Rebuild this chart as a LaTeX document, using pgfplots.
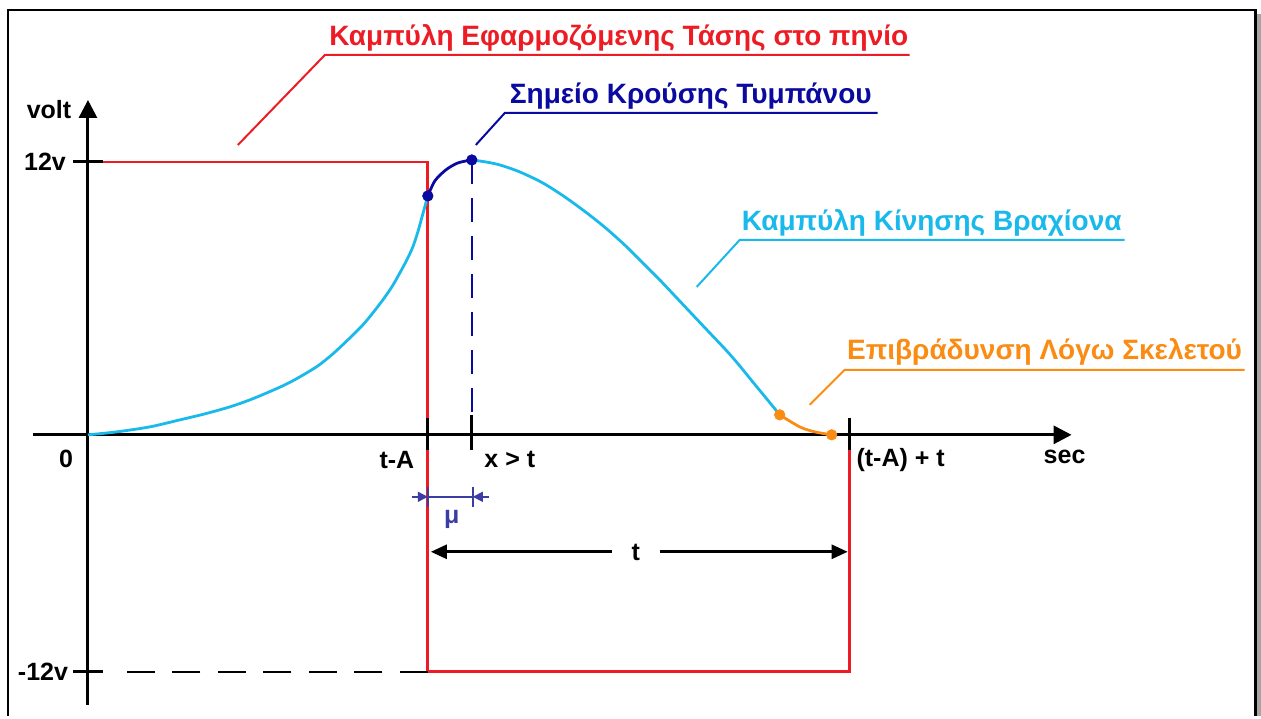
\documentclass[border=0pt]{standalone}
\usepackage{pgfplots}
\pgfplotsset{compat=1.18}
\usepackage{fontspec}
\setmainfont{Liberation Sans}
\usetikzlibrary{arrows.meta}
\definecolor{cred}{RGB}{237,28,36}
\definecolor{cblue}{RGB}{10,10,160}
\definecolor{ccyan}{RGB}{25,185,235}
\definecolor{corange}{RGB}{250,140,20}
\definecolor{cmu}{RGB}{60,60,165}
\tikzset{lbl/.style={font=\fontsize{12.5}{14}\selectfont\bfseries,inner sep=0pt},
         ann/.style={font=\fontsize{14}{16}\selectfont\bfseries,inner sep=0pt}}
\begin{document}
\begin{tikzpicture}
\begin{axis}[width=630.5pt,height=358pt,scale only axis,
  xmin=0,xmax=1261,ymin=0,ymax=716,y dir=reverse,hide axis,clip=false]
\addplot[draw=none] coordinates {(0,0) (1261,716)};
% frame
\addplot[gray!70,line width=2.5pt] coordinates {(1259,14) (1259,716)};
\addplot[black,line width=1.4pt] coordinates {(8,716) (8,10) (1256,10) (1256,716)};
% red step
\addplot[cred,line width=1.4pt] coordinates {(103,162) (428,162) (428,672) (850,672) (850,450)};
% dashed -12
\addplot[black,line width=0.9pt,dash pattern=on 14pt off 8.75pt] coordinates {(428,672) (126,672)};
% axes
\addplot[black,line width=1.5pt,-{Triangle[length=9pt,width=9pt]}] coordinates {(88,705) (88,100)};
\addplot[black,line width=1.5pt,-{Triangle[length=9pt,width=9pt]}] coordinates {(33,435) (1072,435)};
\addplot[black,line width=1.5pt] coordinates {(73,162) (103,162)};
\addplot[black,line width=1.5pt] coordinates {(73,672) (103,672)};
\addplot[black,line width=1.5pt] coordinates {(428,418) (428,450)};
\addplot[black,line width=1.5pt] coordinates {(472,415) (472,450)};
\addplot[black,line width=1.5pt] coordinates {(850,418) (850,450)};
% dashed vertical
\addplot[cblue,line width=0.9pt,dash pattern=on 12pt off 7pt] coordinates {(472,160) (472,420)};
% cyan rise
\addplot[ccyan,line width=1.4pt,smooth] coordinates {(88,435) (117,432) (150,427) (180,420) (205,414) (230,407) (250,400) (267,393) (285,385) (300,377) (318,366) (333,354) (348,340) (363,325) (373,313) (383,300) (392,287) (400,273) (407,260) (413,247) (418,232) (423,214) (428,196)};
% dark blue
\addplot[cblue,line width=1.4pt,smooth] coordinates {(428,196) (435,181) (446,170) (458,163) (472,160)};
% cyan fall
\addplot[ccyan,line width=1.4pt,smooth] coordinates {(472,160) (486,162) (500,165) (520,172) (543,183) (565,197) (587,213) (607,229) (627,247) (643,263) (660,280) (677,298) (693,315) (710,333) (727,351) (740,366) (753,382) (767,399) (780,415)};
% orange
\addplot[corange,line width=1.4pt,smooth] coordinates {(780,415) (800,427) (815,432) (832,435)};
% dots
\addplot[only marks,mark=*,mark size=2.6pt,cblue] coordinates {(428,196) (472,160)};
\addplot[only marks,mark=*,mark size=2.6pt,corange] coordinates {(780,415) (832,435)};
% mu dimension
\addplot[cmu,line width=0.8pt] coordinates {(428,497) (473,497)};
\addplot[cmu,line width=0.8pt,-{Triangle[length=5pt,width=5pt]}] coordinates {(412,497) (428,497)};
\addplot[cmu,line width=0.8pt,-{Triangle[length=5pt,width=5pt]}] coordinates {(489,497) (473,497)};
\addplot[cmu,line width=0.8pt] coordinates {(428,487) (428,507)};
\addplot[cmu,line width=0.8pt] coordinates {(473,487) (473,507)};
\node[lbl,text=cmu] at (axis cs:452,520) {μ};
% t dimension
\addplot[black,line width=1.3pt,-{Triangle[length=8pt,width=7pt]}] coordinates {(612,552) (431,552)};
\addplot[black,line width=1.3pt,-{Triangle[length=8pt,width=7pt]}] coordinates {(660,552) (848,552)};
\node[lbl] at (axis cs:636,553) {t};
% labels
\node[lbl] at (axis cs:49,110) {volt};
\node[lbl] at (axis cs:45,162) {12v};
\node[lbl] at (axis cs:43,672) {-12v};
\node[lbl] at (axis cs:66,459) {0};
\node[lbl] at (axis cs:397,460) {t-A};
\node[lbl] at (axis cs:510,460) {x > t};
\node[lbl] at (axis cs:901,460) {(t-A) + t};
\node[lbl] at (axis cs:1065,457) {sec};
% annotations
\addplot[cred,line width=1pt] coordinates {(238,145) (325,55) (910,55)};
\node[ann,text=cred] at (axis cs:619,38) {Καμπύλη Εφαρμοζόμενης Τάσης στο πηνίο};
\addplot[cblue,line width=1pt] coordinates {(476,145) (505,113) (878,113)};
\node[ann,text=cblue] at (axis cs:691,96) {Σημείο Κρούσης Τυμπάνου};
\addplot[ccyan,line width=1pt] coordinates {(697,287) (740,240) (1125,240)};
\node[ann,text=ccyan] at (axis cs:932,223) {Καμπύλη Κίνησης Βραχίονα};
\addplot[corange,line width=1pt] coordinates {(810,405) (845,370) (1245,370)};
\node[ann,text=corange] at (axis cs:1045,352) {Επιβράδυνση Λόγω Σκελετού};
\end{axis}
\end{tikzpicture}
\end{document}
